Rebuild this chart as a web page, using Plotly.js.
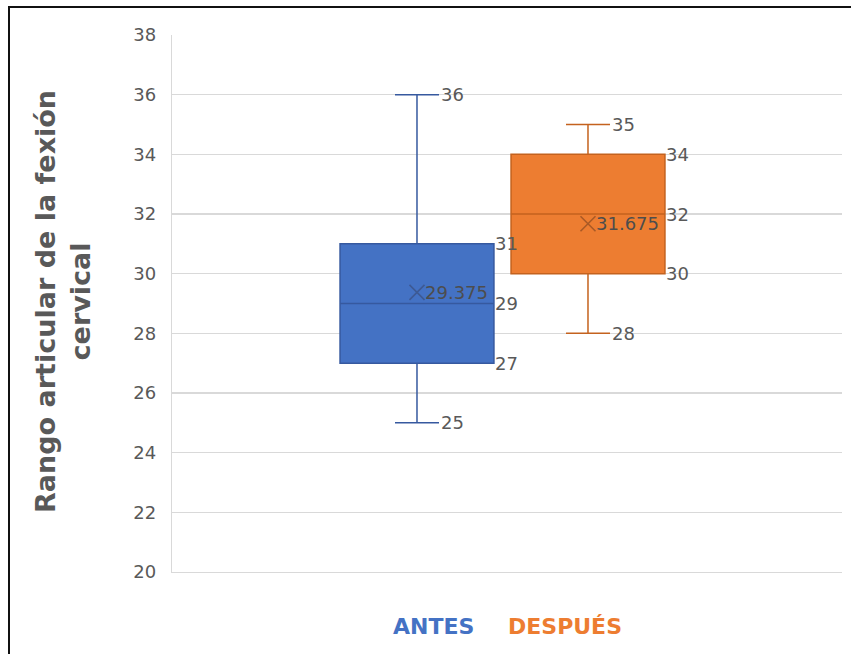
<!DOCTYPE html>
<html>
<head>
<meta charset="utf-8">
<script src="https://cdn.plot.ly/plotly-3.0.1.min.js"></script>
<style>
  html, body { margin: 0; padding: 0; background: #fff; }
  #wrap { position: relative; width: 851px; height: 654px; overflow: hidden; }
  #chart { position: absolute; left: 0; top: 0; width: 851px; height: 654px; }
  #frame { position: absolute; left: 8px; top: 6px; width: 900px; height: 700px;
           border-top: 2px solid #111; border-left: 2px solid #111; pointer-events: none; }
</style>
</head>
<body>
<div id="wrap">
  <div id="chart"></div>
  <div id="frame"></div>
</div>
<script>
// Five-number summaries and means of cervical flexion range, before and after
const groups     = ['ANTES', 'DESPUÉS'];
const lowerFence = [25, 28];
const q1         = [27, 30];
const median     = [29, 32];
const q3         = [31, 34];
const upperFence = [36, 35];
const means      = [29.375, 31.675];

const yTitle = 'Rango articular de la fexión<br>cervical';

// Styling
const fillColors  = ['#4472C4', '#ED7D31'];
const lineColors  = ['#36599f', '#c4621e'];
const meanColors  = ['#3d5a94', '#a95a26'];
const boxWidth = 0.9;
const whiskerWidth = 0.286;
const labelFont = { family: 'DejaVu Sans', size: 18, color: '#595959' };

const traces = [];
const annotations = [];

groups.forEach((g, i) => {
  traces.push({
    type: 'box',
    name: g,
    x: [i],
    q1: [q1[i]],
    median: [median[i]],
    q3: [q3[i]],
    lowerfence: [lowerFence[i]],
    upperfence: [upperFence[i]],
    width: boxWidth,
    whiskerwidth: whiskerWidth,
    fillcolor: fillColors[i],
    line: { color: lineColors[i], width: 1.5 },
    boxpoints: false,
    hoverinfo: 'skip',
    showlegend: false
  });
  traces.push({
    type: 'scatter',
    mode: 'markers',
    x: [i],
    y: [means[i]],
    marker: { symbol: 'x-thin-open', size: 15, color: meanColors[i],
              line: { color: meanColors[i], width: 1.6 } },
    cliponaxis: false,
    hoverinfo: 'skip',
    showlegend: false
  });

  // whisker end labels
  [lowerFence[i], upperFence[i]].forEach(v => {
    annotations.push({
      x: i + boxWidth * whiskerWidth / 2, y: v, xref: 'x', yref: 'y',
      text: String(v), showarrow: false, xanchor: 'left', yanchor: 'middle',
      xshift: 0, font: labelFont
    });
  });
  // quartile and median labels
  [q1[i], median[i], q3[i]].forEach(v => {
    annotations.push({
      x: i + boxWidth / 2, y: v, xref: 'x', yref: 'y',
      text: String(v), showarrow: false, xanchor: 'left', yanchor: 'middle',
      xshift: -1, font: labelFont
    });
  });
  // mean label
  annotations.push({
    x: i, y: means[i], xref: 'x', yref: 'y',
    text: String(means[i]), showarrow: false, xanchor: 'left', yanchor: 'middle',
    xshift: 6, font: { family: 'DejaVu Sans', size: 18, color: '#4d4d4d' }
  });
});

// series names beneath the plot
const legendX = [0.391, 0.5866];
groups.forEach((g, i) => {
  annotations.push({
    x: legendX[i], y: -0.1024, xref: 'paper', yref: 'paper',
    text: '<b>' + g + '</b>', showarrow: false, xanchor: 'center', yanchor: 'middle',
    font: { family: 'DejaVu Sans', size: 22, color: fillColors[i] }
  });
});

// rotated value-axis title
annotations.push({
  x: -0.1627, y: 0.5047, xref: 'paper', yref: 'paper',
  text: '<b>' + yTitle + '</b>', showarrow: false, textangle: -90,
  xanchor: 'center', yanchor: 'middle', align: 'center',
  font: { family: 'DejaVu Sans', size: 27, color: '#595959' }
});

const layout = {
  width: 851, height: 654,
  margin: { l: 172, r: 9, t: 35, b: 82 },
  paper_bgcolor: '#ffffff',
  plot_bgcolor: '#ffffff',
  showlegend: false,
  xaxis: {
    range: [-1.4327, 2.4854],
    showgrid: false, zeroline: false, showticklabels: false, ticks: '',
    showline: true, linecolor: '#d9d9d9', linewidth: 1.3, fixedrange: true
  },
  yaxis: {
    range: [20, 38], dtick: 2, tick0: 20,
    showgrid: true, gridcolor: '#d9d9d9', gridwidth: 1.3,
    zeroline: false, showline: true, linecolor: '#d9d9d9', linewidth: 1.3,
    ticks: '', ticklabelstandoff: 11,
    tickfont: { family: 'DejaVu Sans', size: 18, color: '#595959' },
    fixedrange: true
  },
  annotations: annotations
};

Plotly.newPlot('chart', traces, layout, { staticPlot: true, displayModeBar: false });
</script>
</body>
</html>
